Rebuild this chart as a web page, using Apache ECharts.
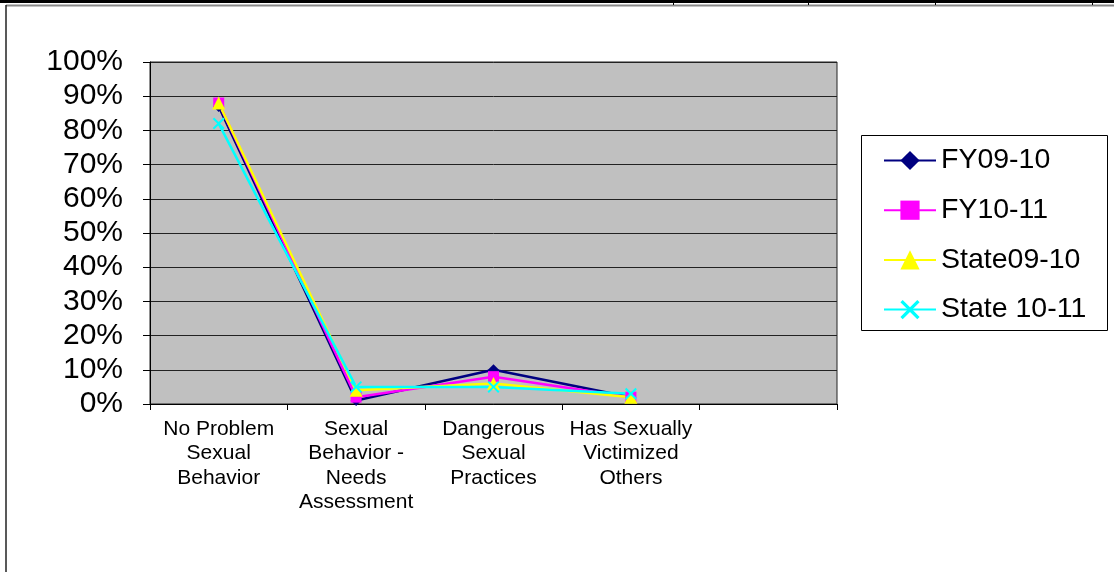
<!DOCTYPE html>
<html>
<head>
<meta charset="utf-8">
<script src="https://cdn.jsdelivr.net/npm/echarts@6/dist/echarts.min.js"></script>
<style>
html,body{margin:0;padding:0;background:#fff;}
#c{width:1114px;height:572px;}
</style>
</head>
<body>
<div id="c"></div>
<script>
const categories = ["No Problem\nSexual\nBehavior", "Sexual\nBehavior -\nNeeds\nAssessment", "Dangerous\nSexual\nPractices", "Has Sexually\nVictimized\nOthers", ""];
const seriesNames = ["FY09-10", "FY10-11", "State09-10", "State 10-11"];
const fy0910 = [87, 1, 10, 2];
const fy1011 = [88, 2, 8, 2];
const state0910 = [88, 4, 6, 2];
const state1011 = [82, 5, 5, 3];
const yTicks = [0, 10, 20, 30, 40, 50, 60, 70, 80, 90, 100];

const colors = ['#000080', '#FF00FF', '#FFFF00', '#00FFFF'];
const xPath = 'path://M0,1.2 L1.2,0 L5,3.8 L8.8,0 L10,1.2 L6.2,5 L10,8.8 L8.8,10 L5,6.2 L1.2,10 L0,8.8 L3.8,5 Z';
const symbols = ['diamond', 'rect', 'triangle', xPath];
const sizes = [11, 11, 13, 12];
const data = [fy0910, fy1011, state0910, state1011];

const chart = echarts.init(document.getElementById('c'), null, {renderer: 'canvas'});
const font = 'Arial, "Liberation Sans", sans-serif';

chart.setOption({
  animation: false,
  backgroundColor: '#fff',
  grid: {
    left: 150, top: 62, width: 687, height: 342,
    show: true, backgroundColor: '#C0C0C0', borderColor: '#222', borderWidth: 1
  },
  legend: {
    orient: 'vertical',
    left: 878, top: 141,
    itemWidth: 52, itemHeight: 24, itemGap: 20.7,
    textStyle: {fontFamily: font, fontSize: 28.5, color: '#000', lineHeight: 28},
    data: seriesNames
  },
  xAxis: {
    type: 'category',
    data: categories,
    boundaryGap: true,
    axisLine: {lineStyle: {color: '#000', width: 1}},
    axisTick: {show: true, inside: false, length: 6, lineStyle: {color: '#000'}},
    axisLabel: {interval: 0, fontFamily: font, fontSize: 21, color: '#000', lineHeight: 24.3, margin: 13, align: 'center'},
    splitLine: {show: false}
  },
  yAxis: {
    type: 'value',
    min: 0, max: 100, interval: 10,
    axisLine: {show: true, lineStyle: {color: '#000', width: 1}},
    axisTick: {show: true, length: 7, lineStyle: {color: '#000'}},
    axisLabel: {
      fontFamily: font, fontSize: 30, color: '#000', margin: 27,
      formatter: function (v) { return yTicks.indexOf(v) >= 0 ? v + '%' : ''; }
    },
    splitLine: {show: true, lineStyle: {color: '#222', width: 1}}
  },
  series: seriesNames.map((n, i) => ({
    name: n,
    type: 'line',
    data: data[i],
    symbol: symbols[i],
    symbolSize: sizes[i],
    showAllSymbol: true,
    lineStyle: {color: colors[i], width: 2.5},
    itemStyle: {color: colors[i], borderWidth: 0},
    emphasis: {disabled: true}
  })),
  graphic: [
    {type: 'rect', shape: {x: 0, y: 0, width: 1114, height: 3}, style: {fill: '#000'}, silent: true},
    {type: 'line', shape: {x1: 6, y1: 5.5, x2: 1114, y2: 5.5}, style: {stroke: '#888', lineWidth: 2}, silent: true},
    {type: 'line', shape: {x1: 6, y1: 5, x2: 6, y2: 572}, style: {stroke: '#222', lineWidth: 1.5}, silent: true},
    {type: 'line', shape: {x1: 673.5, y1: 0, x2: 673.5, y2: 5}, style: {stroke: '#000', lineWidth: 1}, silent: true},
    {type: 'line', shape: {x1: 808.5, y1: 0, x2: 808.5, y2: 5}, style: {stroke: '#000', lineWidth: 1}, silent: true},
    {type: 'line', shape: {x1: 935.5, y1: 0, x2: 935.5, y2: 5}, style: {stroke: '#000', lineWidth: 1}, silent: true},
    {type: 'line', shape: {x1: 1092.5, y1: 0, x2: 1092.5, y2: 5}, style: {stroke: '#000', lineWidth: 1}, silent: true},
    {type: 'rect', shape: {x: 861.5, y: 135.5, width: 246, height: 195}, style: {fill: 'none', stroke: '#000', lineWidth: 1}, silent: true, z: -1}
  ]
});
</script>
</body>
</html>
